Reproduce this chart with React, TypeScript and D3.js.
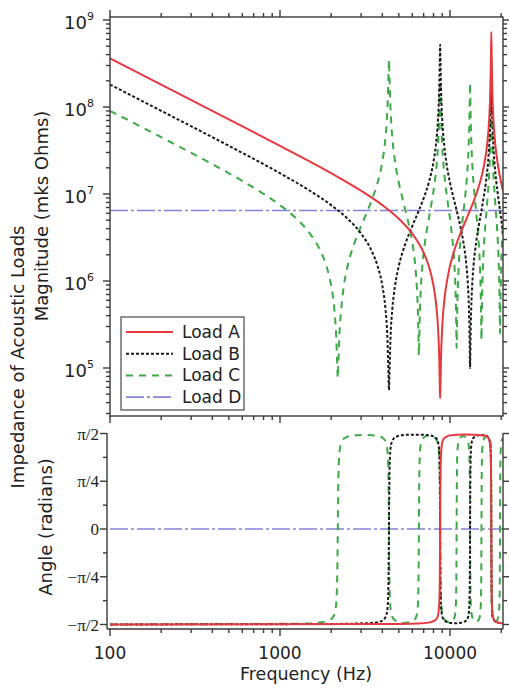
import React from "react";
import * as d3 from "d3";

// ---------- data ----------
// magnitude: [frequency Hz, log10 |Z| (mks Ohms)]
const loadAMag: [number, number][] = [
  [100, 8.559], [200, 8.258], [500, 7.859], [1000, 7.554], [2000, 7.239], [3000, 7.037], [4000, 6.872],
  [5000, 6.715], [6000, 6.544], [7000, 6.325], [7500, 6.172], [8000, 5.945], [8300, 5.721], [8500, 5.47],
  [8650, 5.097], [8720, 4.757], [8750, 4.653], [8780, 4.757], [8850, 5.097], [9000, 5.47], [9300, 5.809],
  [9700, 6.049], [10500, 6.325], [11500, 6.544], [12500, 6.715], [13500, 6.872], [14500, 7.037],
  [15500, 7.239], [16000, 7.372], [16500, 7.554], [17000, 7.859], [17250, 8.161], [17400, 8.511],
  [17500, 8.863], [17600, 8.511], [17750, 8.153], [18000, 7.858], [18500, 7.554], [19000, 7.372],
  [19500, 7.239], [20500, 7.037],
];
const loadBMag: [number, number][] = [
  [100, 8.258], [200, 7.956], [500, 7.554], [1000, 7.239], [1500, 7.037], [2000, 6.872], [2500, 6.715],
  [3000, 6.544], [3500, 6.325], [3750, 6.172], [4000, 5.945], [4175, 5.67], [4275, 5.38], [4345, 4.953],
  [4375, 4.748], [4405, 4.953], [4475, 5.38], [4575, 5.67], [4750, 5.945], [5000, 6.172], [5500, 6.444],
  [6000, 6.632], [6500, 6.793], [7000, 6.952], [7500, 7.13], [8000, 7.372], [8250, 7.554], [8500, 7.859],
  [8625, 8.145], [8700, 8.473], [8750, 8.716], [8800, 8.473], [8875, 8.145], [9000, 7.859], [9250, 7.554],
  [9500, 7.372], [10000, 7.13], [10500, 6.952], [11000, 6.793], [11500, 6.632], [12000, 6.444],
  [12500, 6.172], [12750, 5.945], [12925, 5.679], [13025, 5.404], [13095, 5.087], [13125, 5.0],
  [13155, 5.087], [13225, 5.404], [13325, 5.679], [13500, 5.945], [13750, 6.172], [14250, 6.444],
  [14750, 6.632], [15250, 6.793], [15750, 6.952], [16250, 7.13], [16750, 7.372], [17000, 7.554],
  [17250, 7.859], [17375, 8.132], [17450, 8.419], [17500, 8.58], [17550, 8.419], [17625, 8.132],
  [17750, 7.859], [18000, 7.554], [18250, 7.372], [18750, 7.13], [19250, 6.952], [19750, 6.793],
  [20500, 6.544],
];
const loadCMag: [number, number][] = [
  [100, 7.956], [200, 7.653], [400, 7.343], [600, 7.151], [800, 7.002], [1000, 6.872], [1250, 6.715],
  [1500, 6.544], [1750, 6.325], [1875, 6.172], [2000, 5.945], [2090, 5.665], [2140, 5.371], [2170, 5.05],
  [2187.5, 4.886], [2205, 5.05], [2235, 5.371], [2290, 5.665], [2375, 5.945], [2500, 6.172], [2750, 6.444],
  [3000, 6.632], [3250, 6.793], [3500, 6.952], [3750, 7.13], [4000, 7.372], [4125, 7.554], [4250, 7.859],
  [4312, 8.127], [4350, 8.401], [4375, 8.544], [4400, 8.401], [4438, 8.127], [4500, 7.859], [4625, 7.554],
  [4750, 7.372], [5000, 7.13], [5250, 6.952], [5500, 6.793], [5750, 6.632], [6000, 6.444], [6250, 6.172],
  [6375, 5.945], [6470, 5.657], [6520, 5.385], [6545, 5.21], [6562.5, 5.146], [6580, 5.21], [6605, 5.385],
  [6655, 5.657], [6750, 5.945], [6875, 6.172], [7125, 6.444], [7375, 6.632], [7625, 6.793], [7875, 6.952],
  [8125, 7.13], [8375, 7.372], [8500, 7.554], [8625, 7.833], [8688, 8.069], [8725, 8.243], [8750, 8.301],
  [8775, 8.243], [8812, 8.069], [8875, 7.833], [9000, 7.554], [9125, 7.372], [9375, 7.13], [9625, 6.952],
  [9875, 6.793], [10125, 6.632], [10375, 6.444], [10625, 6.172], [10750, 5.945], [10840, 5.687],
  [10890, 5.447], [10920, 5.276], [10937.5, 5.23], [10955, 5.276], [10985, 5.447], [11035, 5.687],
  [11125, 5.945], [11250, 6.172], [11500, 6.444], [11750, 6.632], [12000, 6.793], [12250, 6.952],
  [12500, 7.13], [12750, 7.372], [12875, 7.554], [13000, 7.83], [13062, 8.061], [13100, 8.226],
  [13125, 8.279], [13150, 8.226], [13188, 8.061], [13250, 7.83], [13375, 7.554], [13500, 7.372],
  [13750, 7.13], [14000, 6.952], [14250, 6.793], [14500, 6.632], [14750, 6.444], [15000, 6.172],
  [15125, 5.945], [15215, 5.701], [15265, 5.485], [15295, 5.353], [15312.5, 5.322], [15330, 5.353],
  [15360, 5.485], [15410, 5.701], [15500, 5.945], [15625, 6.172], [15875, 6.444], [16125, 6.632],
  [16375, 6.793], [16625, 6.952], [16875, 7.13], [17125, 7.372], [17250, 7.554], [17375, 7.847],
  [17438, 8.115], [17475, 8.363], [17500, 8.477], [17525, 8.363], [17562, 8.115], [17625, 7.847],
  [17750, 7.554], [17875, 7.372], [18125, 7.13], [18375, 6.952], [18625, 6.793], [18875, 6.632],
  [19125, 6.444], [19375, 6.172], [19500, 5.945], [19590, 5.716], [19640, 5.524], [19670, 5.42],
  [19687.5, 5.398], [19705, 5.42], [19735, 5.524], [19785, 5.716], [19875, 5.945], [20000, 6.172],
  [20500, 6.632],
];
const loadDMag: [number, number][] = [[100, 6.81], [20500, 6.81]];

// angle: [frequency Hz, radians]
const loadAAngle: [number, number][] = [
  [100, -1.57], [4000, -1.562], [6500, -1.553], [7500, -1.54], [8000, -1.515], [8300, -1.484], [8500, -1.425],
  [8620, -1.284], [8700, -0.945], [8730, -0.48], [8750, 0], [8770, 0.48], [8800, 0.945], [8880, 1.284],
  [9000, 1.425], [9200, 1.484], [9500, 1.515], [10000, 1.54], [12000, 1.553], [16000, 1.538], [16800, 1.5],
  [17100, 1.448], [17300, 1.328], [17420, 1.016], [17470, 0.544], [17500, 0], [17530, -0.544],
  [17580, -1.016], [17700, -1.328], [17900, -1.448], [18200, -1.5], [19000, -1.538], [20500, -1.553],
];
const loadBAngle: [number, number][] = [
  [100, -1.57], [2000, -1.562], [3375, -1.547], [3875, -1.523], [4125, -1.475], [4250, -1.381], [4315, -1.19],
  [4350, -0.805], [4375, 0], [4400, 0.805], [4435, 1.19], [4500, 1.381], [4625, 1.475], [4875, 1.523],
  [5375, 1.547], [6300, 1.552], [7250, 1.548], [8050, 1.521], [8400, 1.472], [8580, 1.369], [8670, 1.161],
  [8720, 0.711], [8750, 0], [8780, -0.711], [8830, -1.161], [8920, -1.369], [9100, -1.472], [9450, -1.521],
  [10250, -1.548], [11000, -1.55], [11625, -1.542], [12425, -1.509], [12775, -1.449], [12955, -1.324],
  [13045, -1.079], [13095, -0.611], [13125, 0], [13155, 0.611], [13205, 1.079], [13295, 1.324],
  [13475, 1.449], [13825, 1.509], [14625, 1.542], [15300, 1.546], [16000, 1.539], [16800, 1.503],
  [17150, 1.436], [17330, 1.298], [17420, 1.034], [17470, 0.562], [17500, 0], [17530, -0.562],
  [17580, -1.034], [17670, -1.298], [17850, -1.436], [18200, -1.503], [19000, -1.539], [20500, -1.55],
];
const loadCAngle: [number, number][] = [
  [100, -1.57], [1500, -1.555], [1687, -1.538], [1937, -1.505], [2062, -1.44], [2127, -1.302], [2162, -0.987],
  [2177, -0.545], [2187.5, 0], [2198, 0.545], [2212, 0.987], [2247, 1.302], [2312, 1.44], [2437, 1.505],
  [2687, 1.538], [3100, 1.548], [3675, 1.534], [4025, 1.497], [4200, 1.424], [4290, 1.276], [4340, 0.935],
  [4363, 0.435], [4375, 0], [4387, -0.435], [4410, -0.935], [4460, -1.276], [4550, -1.424], [4725, -1.497],
  [5075, -1.534], [5400, -1.545], [5762, -1.533], [6162, -1.496], [6362, -1.422], [6462, -1.279],
  [6522, -0.927], [6547, -0.464], [6562.5, 0], [6578, 0.464], [6602, 0.927], [6662, 1.279], [6762, 1.422],
  [6962, 1.496], [7362, 1.533], [7550, 1.533], [8150, 1.496], [8450, 1.421], [8600, 1.278], [8690, 0.925],
  [8730, 0.416], [8750, 0], [8770, -0.416], [8810, -0.925], [8900, -1.278], [9050, -1.421], [9350, -1.496],
  [9937, -1.534], [10437, -1.498], [10687, -1.426], [10817, -1.276], [10887, -0.94], [10920, -0.436],
  [10937.5, 0], [10955, 0.436], [10987, 0.94], [11057, 1.276], [11187, 1.426], [11437, 1.498],
  [11925, 1.531], [12525, 1.491], [12825, 1.413], [12975, 1.265], [13065, 0.9], [13105, 0.398], [13125, 0],
  [13145, -0.398], [13185, -0.9], [13275, -1.265], [13425, -1.413], [13725, -1.491], [14312, -1.526],
  [14812, -1.481], [15062, -1.392], [15192, -1.211], [15262, -0.837], [15295, -0.361], [15312.5, 0],
  [15330, 0.361], [15362, 0.837], [15432, 1.211], [15562, 1.392], [15812, 1.481], [16312, 1.526],
  [16700, 1.533], [17100, 1.495], [17300, 1.421], [17400, 1.277], [17460, 0.924], [17485, 0.464],
  [17500, 0], [17515, -0.464], [17540, -0.924], [17600, -1.277], [17700, -1.421], [17900, -1.495],
  [18300, -1.533], [18687, -1.517], [19187, -1.464], [19437, -1.36], [19567, -1.15], [19637, -0.751],
  [19670, -0.307], [19687.5, 0], [19705, 0.307], [19737, 0.751], [19807, 1.15], [19937, 1.36],
  [20187, 1.464], [20500, 1.49],
];
const loadDAngle: [number, number][] = [[100, 0], [20500, 0]];

const seriesNames = ["Load A", "Load B", "Load C", "Load D"];
const xTickLabels = ["100", "1000", "10000"];
const magExponents = ["5", "6", "7", "8", "9"];
const angleTickLabels = ["\u2212\u03c0/2", "\u2212\u03c0/4", "0", "\u03c0/4", "\u03c0/2"];

// ---------- styling ----------
const W = 509;
const H = 689;
const styles = [
  { color: "#e53940", dash: "none", width: 2 },
  { color: "#1a1a1a", dash: "3,2", width: 2 },
  { color: "#3caa45", dash: "7,6", width: 2 },
  { color: "#8383dc", dash: "18,3,3,3", width: 1.6 },
];
const axisColor = "#3a3a3a";
const sans = "'DejaVu Sans', Verdana, sans-serif";
const serif = "'Liberation Serif', 'Times New Roman', serif";

// geometry
const top = { left: 110, right: 503, top: 17, bottom: 416 };
const bot = { left: 107, right: 503, top: 433, bottom: 629 };

const x = d3.scaleLog().domain([100, 20500]).range([110, 503]);
const yMag = d3.scaleLog().domain([1e5, 1e9]).range([368, 20]);
const yAng = d3.scaleLinear().domain([-Math.PI / 2, Math.PI / 2]).range([624.5, 433.5]);

function logTicks(lo: number, hi: number) {
  const out: { v: number; major: boolean }[] = [];
  for (let e = Math.floor(Math.log10(lo)); e <= Math.ceil(Math.log10(hi)); e++) {
    for (let m = 1; m <= 9; m++) {
      const v = m * Math.pow(10, e);
      if (v >= lo * 0.999 && v <= hi * 1.001) out.push({ v, major: m === 1 });
    }
  }
  return out;
}

export default function App() {
  const xTicks = logTicks(100, 20500);
  const yTicks = logTicks(yMag.invert(top.bottom), yMag.invert(top.top));
  const angTicks: { v: number; major: boolean }[] = [];
  for (let k = -4; k <= 4; k++) angTicks.push({ v: (k * Math.PI) / 8, major: k % 2 === 0 });

  const magLine = d3
    .line<[number, number]>()
    .x((d) => x(d[0]))
    .y((d) => yMag(Math.pow(10, d[1])))
    .curve(d3.curveMonotoneX);
  const angLine = d3
    .line<[number, number]>()
    .x((d) => x(d[0]))
    .y((d) => yAng(d[1]))
    .curve(d3.curveMonotoneX);

  const mags = [loadAMag, loadBMag, loadCMag, loadDMag];
  const angs = [loadAAngle, loadBAngle, loadCAngle, loadDAngle];
  const drawOrder = [3, 2, 1, 0];

  const majorLen = 7;
  const minorLen = 4;

  return (
    <svg
      width={W}
      height={H}
      viewBox={`0 0 ${W} ${H}`}
      style={{ position: "absolute", left: 0, top: 0, background: "#fff" }}
    >
      <defs>
        <clipPath id="clipTop">
          <rect x={top.left} y={top.top} width={top.right - top.left} height={top.bottom - top.top} />
        </clipPath>
        <clipPath id="clipBot">
          <rect x={bot.left} y={bot.top - 4} width={bot.right - bot.left} height={bot.bottom - bot.top + 4} />
        </clipPath>
      </defs>
      <rect x={0} y={0} width={W} height={H} fill="#fff" />

      {/* ---------- top panel curves ---------- */}
      <g clipPath="url(#clipTop)">
        {drawOrder.map((i) => (
          <path
            key={"m" + i}
            d={magLine(mags[i]) || ""}
            fill="none"
            stroke={styles[i].color}
            strokeWidth={styles[i].width}
            strokeDasharray={styles[i].dash}
          />
        ))}
      </g>

      {/* ---------- top panel frame and ticks ---------- */}
      <g stroke={axisColor} strokeWidth={1.4} fill="none">
        <rect x={top.left} y={top.top} width={top.right - top.left} height={top.bottom - top.top} />
        {xTicks.map((t, i) => {
          const xx = x(t.v);
          const l = t.major ? majorLen : minorLen;
          return (
            <g key={"xt" + i}>
              <line x1={xx} x2={xx} y1={top.bottom} y2={top.bottom + l} />
              <line x1={xx} x2={xx} y1={top.top} y2={top.top - l} />
              <line x1={xx} x2={xx} y1={bot.bottom} y2={bot.bottom + l} />
            </g>
          );
        })}
        {yTicks.map((t, i) => {
          const yy = yMag(t.v);
          const l = t.major ? majorLen : minorLen;
          return (
            <g key={"yt" + i}>
              <line x1={top.left} x2={top.left - l} y1={yy} y2={yy} />
              <line x1={top.right} x2={top.right + l} y1={yy} y2={yy} />
            </g>
          );
        })}
      </g>

      {/* top y labels */}
      <g fontFamily={sans} fill="#222">
        {magExponents.map((e) => {
          const yy = yMag(Math.pow(10, +e));
          return (
            <text key={"yl" + e} x={94} y={yy + 9} textAnchor="end" fontSize={18}>
              10
              <tspan dy={-9} fontSize={11}>
                {e}
              </tspan>
            </text>
          );
        })}
      </g>

      {/* legend */}
      <g>
        <rect x={121} y={317} width={123} height={93} fill="#fff" stroke="#555" strokeWidth={1.3} />
        {seriesNames.map((name, i) => {
          const yy = 332 + i * 21.7;
          return (
            <g key={"lg" + i}>
              <line
                x1={126}
                x2={173}
                y1={yy}
                y2={yy}
                stroke={styles[i].color}
                strokeWidth={styles[i].width}
                strokeDasharray={styles[i].dash}
              />
              <text x={182} y={yy + 6} fontFamily={sans} fontSize={17} fill="#222">
                {name}
              </text>
            </g>
          );
        })}
      </g>

      {/* ---------- bottom panel curves ---------- */}
      <g clipPath="url(#clipBot)">
        {drawOrder.map((i) => (
          <path
            key={"a" + i}
            d={angLine(angs[i]) || ""}
            fill="none"
            stroke={styles[i].color}
            strokeWidth={styles[i].width}
            strokeDasharray={styles[i].dash}
          />
        ))}
      </g>

      {/* ---------- bottom panel frame and ticks ---------- */}
      <g stroke={axisColor} strokeWidth={1.4} fill="none">
        <line x1={bot.left} x2={bot.left} y1={bot.top} y2={bot.bottom} />
        <line x1={bot.right} x2={bot.right} y1={bot.top} y2={bot.bottom} />
        <line x1={bot.left} x2={bot.right} y1={bot.bottom} y2={bot.bottom} />
        {angTicks.map((t, i) => {
          const yy = yAng(t.v);
          const l = t.major ? majorLen : minorLen;
          return (
            <g key={"at" + i}>
              <line x1={bot.left} x2={bot.left - l} y1={yy} y2={yy} />
              <line x1={bot.right} x2={bot.right + l} y1={yy} y2={yy} />
            </g>
          );
        })}
      </g>

      {/* bottom y labels */}
      <g fontFamily={serif} fill="#222" fontSize={17}>
        {angleTickLabels.map((lab, i) => (
          <text key={"al" + i} x={99} y={yAng(((i - 2) * Math.PI) / 4) + 6} textAnchor="end">
            {lab}
          </text>
        ))}
      </g>

      {/* x labels */}
      <g fontFamily={sans} fill="#222" fontSize={17}>
        {xTickLabels.map((lab) => (
          <text key={"xl" + lab} x={x(+lab)} y={658.5} textAnchor="middle">
            {lab}
          </text>
        ))}
        <text x={306} y={679.5} textAnchor="middle" fontSize={17.5}>
          Frequency (Hz)
        </text>
      </g>

      {/* axis titles */}
      <g fontFamily={sans} fill="#222" fontSize={18} textAnchor="middle">
        <text transform="translate(24,357) rotate(-90)">Impedance of Acoustic Loads</text>
        <text transform="translate(48,216) rotate(-90)">Magnitude (mks Ohms)</text>
        <text transform="translate(52,527) rotate(-90)">Angle (radians)</text>
      </g>
    </svg>
  );
}
